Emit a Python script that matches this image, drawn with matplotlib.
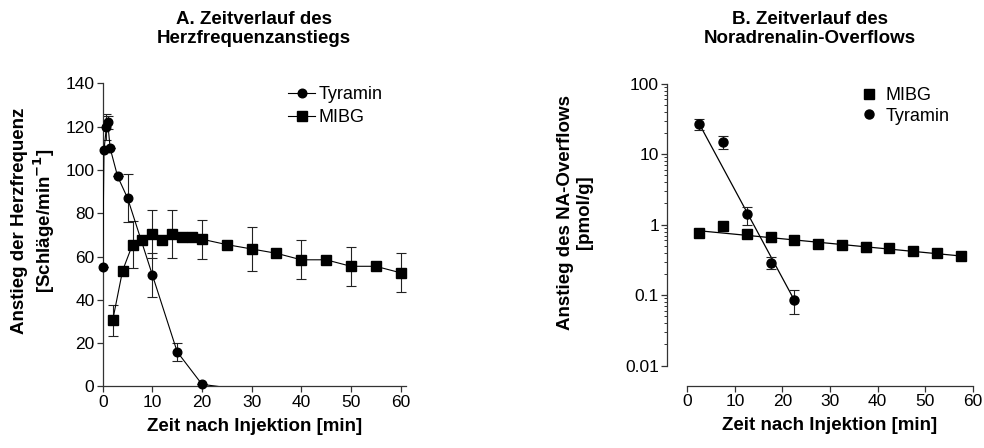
import matplotlib
matplotlib.use("Agg")
import matplotlib.pyplot as plt
from matplotlib.lines import Line2D
import numpy as np

plt.rcParams['font.family'] = ['Liberation Sans', 'DejaVu Sans']

# Panel A: heart rate increase
tyr_x = [0, 0.25, 0.75, 1, 1.5, 3, 5, 10, 15, 20, 25]
tyr_y = [55, 109, 120, 122, 110, 97, 87, 51.5, 16, 1, -0.5]
tyr_err = [0, 0, 6, 3, 0, 0, 11, 10, 4, 0, 0]

mibg_x = [2, 4, 6, 8, 10, 12, 14, 16, 18, 20, 25, 30, 35, 40, 45, 50, 55, 60]
mibg_y = [30.5, 53.5, 65.5, 67.5, 70.5, 67.5, 70.5, 69, 69, 68, 65.5, 63.5, 61.5, 58.5, 58.5, 55.5, 55.5, 52.5]
mibg_err = [7, 0, 11, 0, 11, 0, 11, 0, 0, 9, 0, 10, 0, 9, 0, 9, 0, 9]

# Panel B: noradrenaline overflow
na_x = [2.5, 7.5, 12.5, 17.5, 22.5, 27.5, 32.5, 37.5, 42.5, 47.5, 52.5, 57.5]
na_mibg = [0.76, 0.95, 0.74, 0.66, 0.60, 0.54, 0.51, 0.49, 0.46, 0.43, 0.40, 0.36]
na_mibg_err = [0, 0, 0.05, 0.1, 0, 0, 0, 0.08, 0, 0, 0.05, 0]
na_tyr_x = [2.5, 7.5, 12.5, 17.5, 22.5]
na_tyr = [27, 15, 1.4, 0.29, 0.086]
na_tyr_err = [5, 3, 0.4, 0.055, 0.032]
# regression lines (value at first and last time point)
mibg_fit = [0.82, 0.36]
tyr_fit = [27, 0.085]

fig = plt.figure(figsize=(9.84, 4.48), dpi=100)
ec = '#222222'

# ---------- A ----------
ax = fig.add_axes([0.1044, 0.1373, 0.3077, 0.6768])
t = np.array(tyr_y)
ax.plot(tyr_x, tyr_y, color='black', lw=0.8, clip_on=True, zorder=3)
ok = t >= 0
ax.plot(np.array(tyr_x)[ok], t[ok], 'o', color='black', ms=6.2, clip_on=False, zorder=4)
ax.errorbar(tyr_x, tyr_y, yerr=tyr_err, fmt='none', ecolor=ec, elinewidth=0.8, capsize=3.8, capthick=0.8, zorder=2)
ax.plot(mibg_x, mibg_y, '-s', color='black', lw=0.8, ms=6.8, clip_on=False, zorder=3)
ax.errorbar(mibg_x, mibg_y, yerr=mibg_err, fmt='none', ecolor=ec, elinewidth=0.8, capsize=3.8, capthick=0.8, zorder=2)
ax.set_xlim(0, 61)
ax.set_ylim(0, 140)
ax.set_xticks(range(0, 61, 10))
ax.set_yticks(range(0, 141, 20))
ax.set_xlabel('Zeit nach Injektion [min]', fontsize=13.5, fontweight='bold', labelpad=6)
ax.set_ylabel('Anstieg der Herzfrequenz\n[Schläge/min$\\mathbf{^{-1}}$]', fontsize=13.5, fontweight='bold')
ax.yaxis.set_label_coords(-0.151, 0.546)
h = [Line2D([], [], color='black', lw=0.8, marker='o', ms=6.2),
     Line2D([], [], color='black', lw=0.8, marker='s', ms=6.8)]
ax.legend(h, ['Tyramin', 'MIBG'], loc='upper left', bbox_to_anchor=(288 / 984, 1 - 86 / 448),
          bbox_transform=fig.transFigure, frameon=False, fontsize=13, handlelength=1.5,
          handletextpad=0.2, borderpad=0, borderaxespad=0, labelspacing=0.35)

# ---------- B ----------
bx = fig.add_axes([0.6985, 0.1837, 0.29, 0.6295])
bx.set_yscale('log')
bx.plot([na_x[0], na_x[-1]], mibg_fit, color='black', lw=0.9, zorder=2)
bx.plot([na_tyr_x[0], na_tyr_x[-1]], tyr_fit, color='black', lw=0.9, zorder=2)
bx.errorbar(na_x, na_mibg, yerr=na_mibg_err, fmt='s', color='black', ms=7, ecolor=ec,
            elinewidth=0.8, capsize=3.8, capthick=0.8, clip_on=False, zorder=3)
bx.errorbar(na_tyr_x, na_tyr, yerr=na_tyr_err, fmt='o', color='black', ms=6.5, ecolor=ec,
            elinewidth=0.8, capsize=3.8, capthick=0.8, clip_on=False, zorder=3)
bx.set_xlim(0, 60)
bx.set_ylim(0.01, 100)
bx.set_xticks(range(0, 61, 10))
bx.set_yticks([0.01, 0.1, 1, 10, 100])
bx.set_yticklabels(['0.01', '0.1', '1', '10', '100'])
bx.spines['left'].set_position(('outward', 14.4))
bx.spines['bottom'].set_position(('outward', 14.4))
bx.set_xlabel('Zeit nach Injektion [min]', fontsize=13.5, fontweight='bold', labelpad=6)
bx.set_ylabel('Anstieg des NA-Overflows\n[pmol/g]', fontsize=13.5, fontweight='bold')
bx.yaxis.set_label_coords(-0.33, 0.545)
h2 = [Line2D([], [], color='black', lw=0, marker='s', ms=7),
      Line2D([], [], color='black', lw=0, marker='o', ms=6.5)]
bx.legend(h2, ['MIBG', 'Tyramin'], loc='upper left', bbox_to_anchor=(862 / 984, 1 - 87 / 448),
          bbox_transform=fig.transFigure, frameon=False, fontsize=13, handlelength=0.8,
          handletextpad=0.5, borderpad=0, borderaxespad=0, labelspacing=0.2)

for a in (ax, bx):
    for s in ('top', 'right'):
        a.spines[s].set_visible(False)
    for s in ('left', 'bottom'):
        a.spines[s].set_color('#333333')
        a.spines[s].set_linewidth(0.9)
    a.tick_params(which='major', direction='out', length=4, width=0.9, color='#333333',
                  labelsize=12.5, pad=2)
    a.tick_params(which='minor', direction='out', length=2.5, width=0.7, color='#333333')

fig.text(254 / 984, 1 - 11 / 448, 'A. Zeitverlauf des\nHerzfrequenzanstiegs', ha='center', va='top',
         fontsize=13.5, fontweight='bold', linespacing=1.15)
fig.text(810 / 984, 1 - 11 / 448, 'B. Zeitverlauf des\nNoradrenalin-Overflows', ha='center', va='top',
         fontsize=13.5, fontweight='bold', linespacing=1.15)

fig.savefig('out.png', dpi=100)
